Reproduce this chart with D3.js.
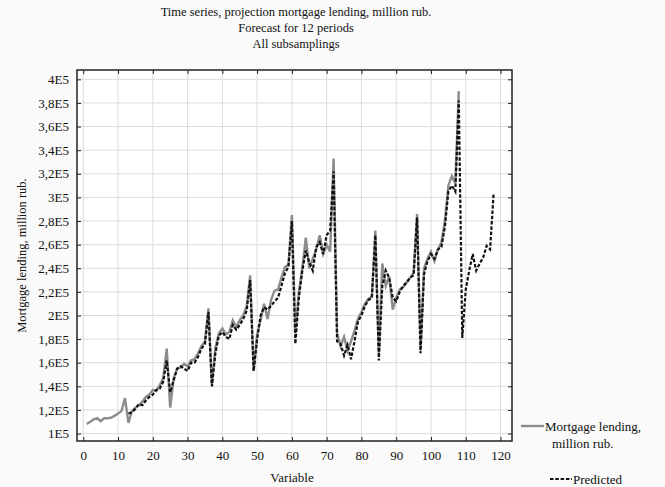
<!DOCTYPE html>
<html>
<head>
<meta charset="utf-8">
<script src="https://cdn.jsdelivr.net/npm/d3@7"></script>
<style>
  body { margin: 0; background: #fafafa; }
  svg text { font-family: "Liberation Serif", "DejaVu Serif", serif; fill: #111; }
</style>
</head>
<body>
<script>
const titleLines = ['Time series, projection mortgage lending, million rub.',
                    'Forecast for 12 periods',
                    'All subsamplings'];

const actualStart = 1;
const actualValues = [
  108000, 110000, 112000, 113000, 110500, 113000, 113000, 113500, 115000, 117000,
  119000, 130000, 109000, 119000, 122000, 124000, 127000, 131000, 133000, 137000,
  136000, 141000, 147000, 172000, 122000, 147000, 155000, 156000, 159000, 157000,
  162000, 163000, 168000, 174000, 178000, 206000, 141000, 173000, 185000, 189000,
  184000, 186000, 196000, 190000, 196000, 200000, 208000, 234000, 153000, 184000,
  196000, 210000, 197000, 213000, 221000, 222000, 232000, 241000, 243000, 285000,
  185000, 220000, 240000, 266000, 240000, 248000, 256000, 268000, 252000, 260000,
  254000, 333000, 185000, 174000, 182000, 170000, 178000, 187000, 197000, 203000,
  210000, 214000, 216000, 272000, 168000, 244000, 225000, 233000, 205000, 215000,
  222000, 224000, 228000, 232000, 236000, 286000, 172000, 240000, 248000, 254000,
  246000, 256000, 262000, 280000, 310000, 318000, 312000, 390000
];

const predictedStart = 13;
const predictedValues = [
  117000, 118000, 121000, 125000, 124000, 128000, 131000, 133000, 137000, 138000,
  144000, 162000, 135000, 145000, 155000, 157000, 155000, 153000, 160000, 160000,
  165000, 172000, 176000, 203000, 140000, 168000, 183000, 186000, 182000, 180000,
  192000, 188000, 192000, 197000, 204000, 230000, 153000, 180000, 200000, 207000,
  205000, 208000, 212000, 215000, 225000, 236000, 241000, 280000, 176000, 215000,
  238000, 255000, 245000, 238000, 258000, 262000, 252000, 268000, 272000, 322000,
  178000, 176000, 166000, 175000, 163000, 178000, 195000, 200000, 208000, 213000,
  215000, 268000, 162000, 225000, 238000, 232000, 215000, 212000, 220000, 225000,
  228000, 232000, 234000, 283000, 168000, 235000, 246000, 252000, 248000, 256000,
  258000, 275000, 305000, 310000, 305000, 382000, 181000, 222000, 238000, 252000,
  238000, 244000, 249000, 259000, 256000, 303000
];

const xTickValues = [0, 10, 20, 30, 40, 50, 60, 70, 80, 90, 100, 110, 120];
const yTickValues = [100000, 120000, 140000, 160000, 180000, 200000, 220000, 240000,
                     260000, 280000, 300000, 320000, 340000, 360000, 380000, 400000];
const yTickLabels = ['1E5', '1,2E5', '1,4E5', '1,6E5', '1,8E5', '2E5', '2,2E5', '2,4E5',
                     '2,6E5', '2,8E5', '3E5', '3,2E5', '3,4E5', '3,6E5', '3,8E5', '4E5'];

const seriesNames = [['Mortgage lending,', 'million rub.'], ['Predicted']];

const width = 665,
      height = 487,
      margin = { top: 70, right: 153, bottom: 46, left: 77 };

const actual = actualValues.map(function(v, i) { return { x: actualStart + i, y: v }; }),
      predicted = predictedValues.map(function(v, i) { return { x: predictedStart + i, y: v }; });

const x = d3.scaleLinear()
            .domain([-1.8, 123.3])
            .range([margin.left, width - margin.right]);

const y = d3.scaleLinear()
            .domain([93700, 407900])
            .range([height - margin.bottom, margin.top]);

const svg = d3.select('body')
              .append('svg')
              .attr('width', width)
              .attr('height', height);

// titles
svg.selectAll('.title')
   .data(titleLines)
   .enter()
   .append('text')
   .attr('class', 'title')
   .attr('x', 296)
   .attr('y', function(d, i) { return 16 + i * 16; })
   .attr('text-anchor', 'middle')
   .style('font-size', '12.5px')
   .text(function(d) { return d; });

// plot background
svg.append('rect')
   .attr('x', margin.left)
   .attr('y', margin.top)
   .attr('width', width - margin.left - margin.right)
   .attr('height', height - margin.top - margin.bottom)
   .attr('fill', 'white');

// grid
svg.append('g')
   .selectAll('line')
   .data(xTickValues)
   .enter()
   .append('line')
   .attr('x1', function(d) { return x(d); })
   .attr('x2', function(d) { return x(d); })
   .attr('y1', margin.top)
   .attr('y2', height - margin.bottom)
   .attr('stroke', '#dcdcdc');

svg.append('g')
   .selectAll('line')
   .data(yTickValues)
   .enter()
   .append('line')
   .attr('x1', margin.left)
   .attr('x2', width - margin.right)
   .attr('y1', function(d) { return y(d); })
   .attr('y2', function(d) { return y(d); })
   .attr('stroke', '#dcdcdc');

// axes with inward ticks
const xAxisBottom = d3.axisBottom(x).tickValues(xTickValues).tickSizeInner(-4).tickSizeOuter(0).tickPadding(10),
      xAxisTop = d3.axisTop(x).tickValues(xTickValues).tickSizeInner(-4).tickSizeOuter(0).tickFormat(''),
      yAxisLeft = d3.axisLeft(y).tickValues(yTickValues).tickSizeInner(-4).tickSizeOuter(0).tickPadding(8)
                    .tickFormat(function(d, i) { return yTickLabels[i]; }),
      yAxisRight = d3.axisRight(y).tickValues(yTickValues).tickSizeInner(-4).tickSizeOuter(0).tickFormat('');

[
  [xAxisBottom, 'translate(0,' + (height - margin.bottom) + ')'],
  [xAxisTop, 'translate(0,' + margin.top + ')'],
  [yAxisLeft, 'translate(' + margin.left + ',0)'],
  [yAxisRight, 'translate(' + (width - margin.right) + ',0)']
].forEach(function(a) {
  const g = svg.append('g').attr('transform', a[1]).call(a[0]);
  g.select('.domain').remove();
  g.selectAll('line').attr('stroke', '#222');
  g.selectAll('text')
   .style('font-family', '"Liberation Serif", serif')
   .style('font-size', '13px')
   .attr('fill', '#111');
});

// lines
const line = d3.line()
               .x(function(d) { return x(d.x); })
               .y(function(d) { return y(d.y); });

svg.append('clipPath').attr('id', 'clip')
   .append('rect')
   .attr('x', margin.left)
   .attr('y', margin.top)
   .attr('width', width - margin.left - margin.right)
   .attr('height', height - margin.top - margin.bottom);

svg.append('path')
   .datum(actual)
   .attr('clip-path', 'url(#clip)')
   .attr('d', line)
   .attr('fill', 'none')
   .attr('stroke', '#8c8c8c')
   .attr('stroke-width', 2.4);

svg.append('path')
   .datum(predicted)
   .attr('clip-path', 'url(#clip)')
   .attr('d', line)
   .attr('fill', 'none')
   .attr('stroke', '#111')
   .attr('stroke-width', 2.2)
   .attr('stroke-dasharray', '3.5,1.8');

// frame
svg.append('rect')
   .attr('x', margin.left)
   .attr('y', margin.top)
   .attr('width', width - margin.left - margin.right)
   .attr('height', height - margin.top - margin.bottom)
   .attr('fill', 'none')
   .attr('stroke', '#222')
   .attr('stroke-width', 1.5);

// axis titles
svg.append('text')
   .attr('x', 292)
   .attr('y', 482)
   .attr('text-anchor', 'middle')
   .style('font-size', '13px')
   .text('Variable');

svg.append('text')
   .attr('transform', 'translate(26,' + ((margin.top + height - margin.bottom) / 2) + ') rotate(-90)')
   .attr('text-anchor', 'middle')
   .style('font-size', '12.5px')
   .text('Mortgage lending, million rub.');

// legend
const legend = svg.append('g').attr('id', 'legend');

legend.append('line')
      .attr('x1', 521).attr('x2', 544)
      .attr('y1', 426).attr('y2', 426)
      .attr('stroke', '#8c8c8c')
      .attr('stroke-width', 2.4);

legend.selectAll('.l1')
      .data(seriesNames[0])
      .enter()
      .append('text')
      .attr('class', 'l1')
      .attr('x', function(d, i) { return i === 0 ? 545 : 552; })
      .attr('y', function(d, i) { return 431 + i * 17; })
      .style('font-size', '13px')
      .text(function(d) { return d; });

legend.append('line')
      .attr('x1', 550).attr('x2', 572)
      .attr('y1', 479).attr('y2', 479)
      .attr('stroke', '#111')
      .attr('stroke-width', 2.2)
      .attr('stroke-dasharray', '3.5,1.8');

legend.append('text')
      .attr('x', 573)
      .attr('y', 484)
      .style('font-size', '13px')
      .text(seriesNames[1][0]);
</script>
</body>
</html>
